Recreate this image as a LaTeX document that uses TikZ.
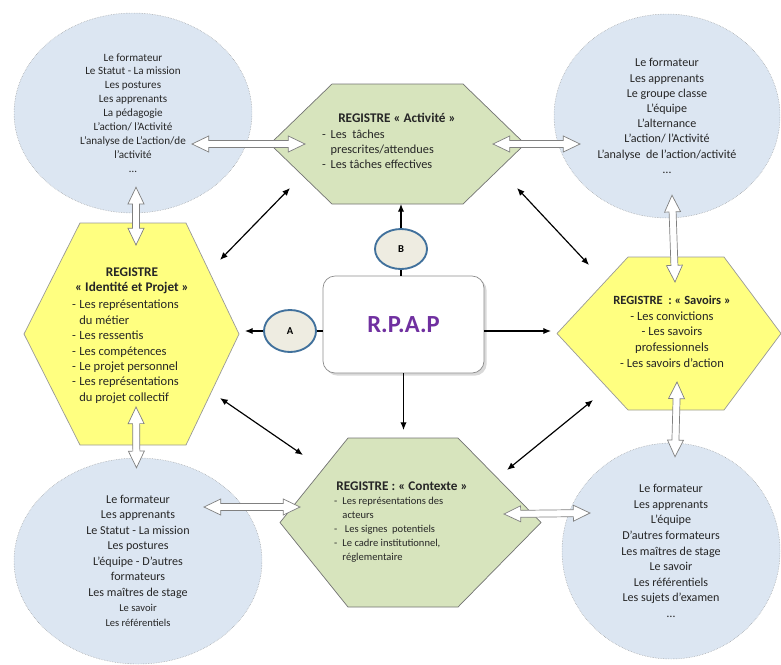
\documentclass[tikz,border=0pt]{standalone}
\usepackage{fontspec}
\setmainfont{Carlito}
\usetikzlibrary{arrows.meta,calc,shapes.geometric,shadows,backgrounds}

\definecolor{ellblue}{RGB}{220,230,242}
\definecolor{regreen}{RGB}{215,228,189}
\definecolor{regyellow}{RGB}{255,255,128}
\definecolor{pastbeige}{RGB}{238,236,225}
\definecolor{pastblue}{RGB}{65,113,156}
\definecolor{rpapviolet}{RGB}{112,48,160}

\newcommand\hexa[4]{%
  \draw[#4] (#1.west) -- ($(#1.north west)+(#2,0)$) -- ($(#1.north east)+(-#3,0)$)
    -- (#1.east) -- ($(#1.south east)+(-#3,0)$) -- ($(#1.south west)+(#2,0)$) -- cycle;}

\tikzset{
  bubble/.style={ellipse, draw=black!45, densely dotted, fill=ellblue, align=center,
    inner sep=0pt, text=black!85},
  regbox/.style={rectangle, inner sep=0pt, outer sep=0pt},
  greenhex/.style={draw=black!55, fill=regreen, line width=0.6pt},
  yellowhex/.style={draw=black!40, fill=regyellow, line width=0.6pt},
  regtitle/.style={font=\bfseries\fontsize{11.3}{13}\selectfont, align=center,
    inner sep=0pt, text=black!85},
  reglist/.style={anchor=north west, inner sep=0pt, text=black!85},
  pastille/.style={ellipse, draw=pastblue, line width=1.6pt, fill=pastbeige,
    font=\bfseries\fontsize{9}{10}\selectfont, inner sep=0pt,
    minimum width=15.6mm},
  link/.style={line width=1pt},
  blockarr/.style={draw=black!50, fill=white, line width=0.6pt,
    to path={let \p1=(\tikztostart), \p2=(\tikztotarget),
      \n1={atan2(\y2-\y1,\x2-\x1)}, \n2={\n1+90}, \n3={\n1-90} in
      -- ($(\p1)+(\n1:5mm)+(\n2:2.4mm)$) -- ($(\p1)+(\n1:5mm)+(\n2:1.05mm)$)
      -- ($(\p2)+(\n1:-5mm)+(\n2:1.05mm)$) -- ($(\p2)+(\n1:-5mm)+(\n2:2.4mm)$)
      -- (\p2)
      -- ($(\p2)+(\n1:-5mm)+(\n3:2.4mm)$) -- ($(\p2)+(\n1:-5mm)+(\n3:1.05mm)$)
      -- ($(\p1)+(\n1:5mm)+(\n3:1.05mm)$) -- ($(\p1)+(\n1:5mm)+(\n3:2.4mm)$)
      -- cycle}}
}

\begin{document}
\begin{tikzpicture}[x=0.3mm, y=-0.3mm, >={Latex[length=2.3mm,width=1.9mm]}]
  \useasboundingbox (0,0) rectangle (781,664);

  \node[bubble, minimum width=71.4mm, minimum height=60mm,
        font=\fontsize{9.5}{11.9}\selectfont] (tl) at (133,113)
    {Le formateur\\Le Statut - La mission\\Les postures\\Les apprenants\\La pédagogie\\
     L’action/ l’Activité\\L’analyse de L’action/de\\l’activité\\…};
  \node[bubble, minimum width=67.8mm, minimum height=61.2mm,
        font=\fontsize{10.3}{13}\selectfont] (tr) at (667,116)
    {Le formateur\\Les apprenants\\Le groupe classe\\L’équipe\\L’alternance\\
     L’action/ l’Activité\\L’analyse~ de l’action/activité\\…};
  \node[bubble, minimum width=74.4mm, minimum height=61.8mm,
        font=\fontsize{10.3}{13.2}\selectfont] (bl) at (138,561)
    {Le formateur\\Les apprenants\\Le Statut - La mission\\Les postures\\
     L’équipe - D’autres\\formateurs\\Les maîtres de stage\\
     {\fontsize{9}{11}\selectfont Le savoir}\\{\fontsize{9}{11}\selectfont Les référentiels}};
  \node[bubble, minimum width=65.4mm, minimum height=64.8mm,
        font=\fontsize{10.3}{13.3}\selectfont] (br) at (671,551)
    {Le formateur\\Les apprenants\\L’équipe\\D’autres formateurs\\Les maîtres de stage\\
     Le savoir\\Les référentiels\\Les sujets d’examen\\…};

  \node[regbox, minimum width=76.5mm, minimum height=36mm] (act) at (397.5,144) {};
  \node[regbox, minimum width=64.5mm, minimum height=66.6mm] (ident) at (131.5,334) {};
  \node[regbox, minimum width=67.2mm, minimum height=45.9mm] (sav) at (669,333.5) {};
  \node[regbox, minimum width=78.3mm, minimum height=50.7mm] (ctx) at (410.5,522.5) {};

  \begin{scope}[on background layer]
    \hexa{act}{62}{62}{greenhex}
    \hexa{ident}{56}{53}{yellowhex}
    \hexa{sav}{71}{57}{yellowhex}
    \hexa{ctx}{68}{83}{greenhex}
  \end{scope}

  \node[regtitle] (acttitle) at (397,118) {REGISTRE « Activité »};
  \node[reglist, font=\fontsize{10.5}{12.8}\selectfont] (actlist) at (322,128)
    {\begin{tabular}{@{}l@{\hspace{1.4mm}}l@{}}
     - & Les~ tâches\\
       & prescrites/attendues\\
     - & Les tâches effectives
     \end{tabular}};

  \node[regtitle] (identtitle) at (132,281) {REGISTRE\\« Identité et Projet »};
  \node[reglist, font=\fontsize{10.7}{13.1}\selectfont] (identlist) at (72,298)
    {\begin{tabular}{@{}l@{\hspace{1mm}}l@{}}
     - & Les représentations\\
       & du métier\\
     - & Les ressentis\\
     - & Les compétences\\
     - & Le projet personnel\\
     - & Les représentations\\
       & du projet collectif
     \end{tabular}};

  \node[align=center, inner sep=0pt, text=black!85,
        font=\fontsize{10.7}{13.3}\selectfont] (savtext) at (672,331.5)
    {\textbf{REGISTRE~ : « Savoirs »}\\- Les convictions\\- Les savoirs\\
     professionnels\\- Les savoirs d’action};

  \node[regtitle] (ctxtitle) at (402,486) {REGISTRE : « Contexte »};
  \node[reglist, font=\fontsize{9}{11.9}\selectfont] (ctxlist) at (334,494.5)
    {\begin{tabular}{@{}l@{\hspace{1.5mm}}l@{}}
     - & Les représentations des\\
       & acteurs\\
     - & \ Les signes~ potentiels\\
     - & Le cadre institutionnel,\\
       & réglementaire
     \end{tabular}};

  \node[rectangle, rounded corners=3.6mm, draw=black!45, fill=white, line width=0.6pt,
        minimum width=48.3mm, minimum height=29.1mm,
        drop shadow={opacity=0.3, shadow xshift=0.8mm, shadow yshift=-0.8mm},
        font=\bfseries\fontsize{21}{24}\selectfont, text=rpapviolet] (rpap) at (403.5,324.5) {R.P.A.P};

  \node[pastille, minimum height=12.6mm] (A) at (290,331) {A};
  \node[pastille, minimum height=12mm] (B) at (401,249) {B};

  \draw[link] (A.east) -- (A.east -| rpap.west);
  \draw[link, ->, shorten >=1.8mm] (A.west) -- (A.west -| ident.east);
  \draw[link] (B.south) -- (B.south |- rpap.north);
  \draw[link, ->] (B.north) -- (B.north |- act.south);
  \draw[link, ->, shorten >=1.8mm] (A.east -| rpap.east) -- (A.east -| sav.west);
  \draw[link, ->, shorten >=2.4mm] (rpap.south) -- (rpap.south |- ctx.north);

  \draw[link, <->] ($(ident.north east)+(-19,37)$) -- ($(act.south west)+(20,-16)$);
  \draw[link, <->] ($(act.south east)+(-8,-16)$) -- ($(sav.north west)+(32,8)$);
  \draw[link, <->] ($(ident.south east)+(-19,-47)$) -- ($(ctx.north west)+(23,17)$);
  \draw[link, <->] ($(sav.south west)+(36,-10)$) -- ($(ctx.north east)+(-34,32)$);

  \draw[blockarr] ($(tl.center |- act.west)+(59,0)$) to ($(act.west)+(35,0)$);
  \draw[blockarr] ($(act.east)+(-32,0)$) to ($(tr.center |- act.east)+(-87,0)$);
  \draw[blockarr] ($(tl.south)+(3,-26)$) to ($(ident.north)+(4.5,22)$);
  \draw[blockarr] ($(ident.south)+(4.5,-38)$) to ($(bl.north)+(-1.5,10)$);
  \draw[blockarr] ($(bl.center)+(66,-54)$) to ($(ctx.west)+(20,-15.5)$);
  \draw[blockarr] ($(ctx.east)+(-37,-8.5)$) to ($(br.center)+(-81,-38)$);
  \draw[blockarr] ($(tr.south)+(5,-23)$) to ($(sav.north)+(6,25)$);
  \draw[blockarr] ($(sav.south)+(8,-28)$) to ($(br.north)+(4,14)$);
\end{tikzpicture}
\end{document}
